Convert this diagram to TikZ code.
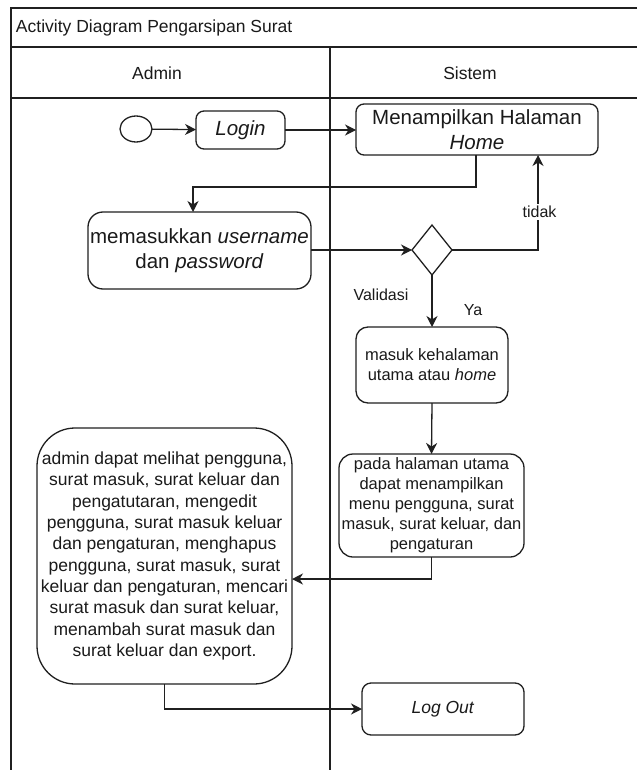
\documentclass[tikz,border=0pt]{standalone}
\usepackage{fontspec}
\setmainfont{Liberation Sans}
\usetikzlibrary{shapes.geometric,arrows.meta}
\definecolor{ln}{HTML}{202020}
\definecolor{tx}{HTML}{1A1A1A}
\begin{document}
\begin{tikzpicture}[x=1pt,y=-1pt,
  every node/.style={inner sep=0pt,outer sep=0pt,text=tx},
  frame/.style={draw=ln,line width=1.1pt},
  act/.style={draw=ln,line width=1.3pt,rounded corners=8pt,align=center},
  big/.style={font=\fontsize{20.5pt}{25pt}\selectfont},
  mid/.style={font=\fontsize{17.5pt}{21.3pt}\selectfont},
  small/.style={font=\fontsize{16.5pt}{20pt}\selectfont},
  lbl/.style={font=\fontsize{16pt}{19pt}\selectfont},
  arr/.style={draw=ln,line width=1.3pt,-{Stealth[length=11pt,width=11pt,inset=3.5pt]}}]
\useasboundingbox (0,0) rectangle (637,770);
\fill[white] (0,0) rectangle (637,770);
% frame
\draw[frame] (637,8) -- (11,8) -- (11,770);
\draw[frame] (11,47) -- (637,47);
\draw[frame] (11,98) -- (637,98);
\draw[frame] (330,47) -- (330,770);
\node[mid,anchor=west] (title) at (16,28) {Activity Diagram Pengarsipan Surat};
\node[mid] (hadmin) at (157,73) {Admin};
\node[mid] (hsis) at (470,73) {Sistem};
% nodes
\node[draw=ln,line width=1.3pt,ellipse,minimum width=32pt,minimum height=26pt] (start) at (136,129) {};
\node[act,big,minimum width=89pt,minimum height=38pt] (login) at (240.5,130) {\textit{Login}};
\node[act,big,minimum width=242pt,minimum height=51pt] (home) at (477,129.5) {Menampilkan Halaman\\\textit{Home}};
\node[act,big,rounded corners=15pt,minimum width=223pt,minimum height=77pt] (mem) at (199.5,250.5) {memasukkan \textit{username}\\dan \textit{password}};
\node[draw=ln,line width=1.3pt,diamond,minimum width=40pt,minimum height=50pt] (dia) at (432,250) {};
\node[act,small,rounded corners=12pt,minimum width=152pt,minimum height=76pt] (masuk) at (432,365) {masuk kehalaman\\utama atau \textit{home}};
\node[act,small,rounded corners=14pt,minimum width=185pt,minimum height=103pt] (pada) at (431.5,505.5) {pada halaman utama\\dapat menampilkan\\menu pengguna, surat\\masuk, surat keluar, dan\\pengaturan};
\node[act,mid,rounded corners=38pt,minimum width=255pt,minimum height=256pt] (admin) at (164.5,556) {admin dapat melihat pengguna,\\surat masuk, surat keluar dan\\pengatutaran, mengedit\\pengguna, surat masuk keluar\\dan pengaturan, menghapus\\pengguna, surat masuk, surat\\keluar dan pengaturan, mencari\\surat masuk dan surat keluar,\\menambah surat masuk dan\\surat keluar dan export.};
\node[act,mid,rounded corners=9pt,minimum width=162pt,minimum height=52pt] (logout) at (443,709) {\textit{Log Out}};
% connectors
\draw[arr] (start) -- (login);
\draw[arr] (login) -- (home.west |- login.east);
\draw[arr] ([xshift=-1pt]home.south) -- ++(0,32) -| ([xshift=-6.5pt]mem.north);
\draw[arr] (mem.east |- dia.west) -- (dia.west);
\draw[arr] (dia.east) -| ([xshift=61pt]home.south);
\node[lbl,fill=white,inner sep=2pt] (tidak) at (539.5,212) {tidak};
\draw[arr] (dia.south) -- (masuk.north);
\node[lbl] (valid) at (381,295) {Validasi};
\node[lbl] (ya) at (473,310) {Ya};
\draw[arr] (masuk.south) -- (pada.north);
\draw[arr] (pada.south) |- ([yshift=-23pt]admin.east);
\draw[arr] (admin.south) |- (logout.west);
\end{tikzpicture}
\end{document}
